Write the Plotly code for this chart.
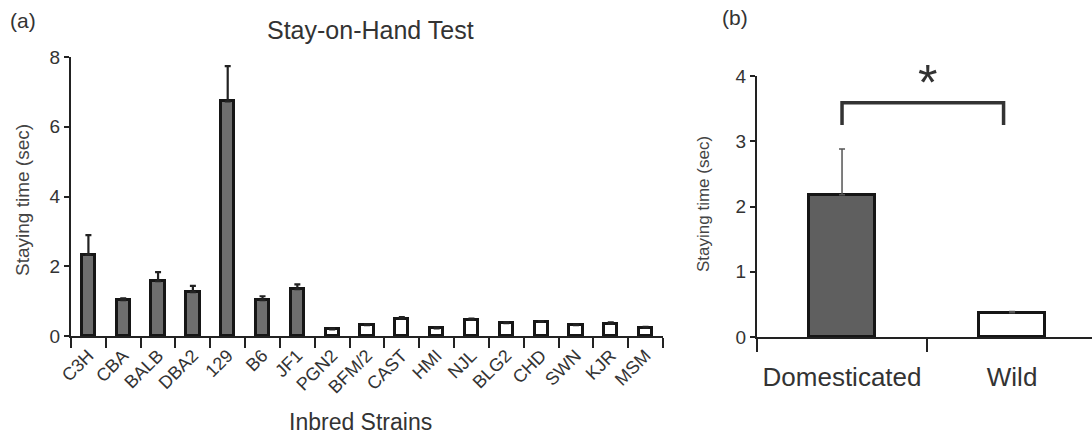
import plotly.graph_objects as go

# ---- data ----
strains = ["C3H", "CBA", "BALB", "DBA2", "129", "B6", "JF1", "PGN2", "BFM/2",
           "CAST", "HMI", "NJL", "BLG2", "CHD", "SWN", "KJR", "MSM"]
strain_means = [2.33, 1.03, 1.57, 1.26, 6.73, 1.03, 1.34, 0.19, 0.31,
                0.50, 0.22, 0.46, 0.37, 0.41, 0.31, 0.35, 0.24]
strain_err = [0.56, 0.05, 0.26, 0.18, 1.01, 0.11, 0.14, 0.02, 0.03,
              0.04, 0.02, 0.04, 0.03, 0.02, 0.02, 0.04, 0.02]
strain_group = ["dom"] * 7 + ["wild"] * 10

groups = ["Domesticated", "Wild"]
group_means = [2.18, 0.37]
group_err = [0.70, 0.02]

yticks_a = [0, 2, 4, 6, 8]
yticks_b = [0, 1, 2, 3, 4]

FONT = "Liberation Sans, Arial, Helvetica, sans-serif"
TXT = "#333333"
W, H = 1092, 435

def px_x(p):
    return p / W

def px_y(p):
    return (H - p) / H

fill_a = ["#6e6e6e" if g == "dom" else "#ffffff" for g in strain_group]
fill_b = ["#5f5f5f", "#ffffff"]

fig = go.Figure()

fig.add_trace(go.Bar(
    x=strains, y=strain_means, xaxis="x", yaxis="y",
    width=0.38,
    marker=dict(color=fill_a, line=dict(color="#161616", width=3)),
    error_y=dict(type="data", symmetric=False, array=strain_err,
                 arrayminus=[0] * len(strain_err),
                 color="#222222", thickness=2.2, width=3),
    showlegend=False,
))

fig.add_trace(go.Bar(
    x=groups, y=group_means, xaxis="x2", yaxis="y2",
    width=0.39,
    marker=dict(color=fill_b, line=dict(color="#161616", width=3)),
    error_y=dict(type="data", symmetric=False, array=group_err,
                 arrayminus=[0, 0],
                 color="#555555", thickness=1.5, width=3),
    showlegend=False,
))

axis_common = dict(showline=True, linecolor="#222222", linewidth=2,
                   showgrid=False, zeroline=False, ticks="outside",
                   tickcolor="#222222", tickwidth=2, automargin=False)

fig.update_layout(
    template="none",
    width=W, height=H,
    margin=dict(l=0, r=0, t=0, b=0, pad=0),
    paper_bgcolor="white", plot_bgcolor="white",
    font=dict(family=FONT, color=TXT),
    bargap=0,
    xaxis=dict(**axis_common, domain=[px_x(71), px_x(663)],
               anchor="y", type="category", range=[-0.5, 16.5],
               tickson="boundaries", ticklen=10, tickangle=-45,
               tickfont=dict(size=18, color=TXT)),
    yaxis=dict(**axis_common, domain=[px_y(336), px_y(57)],
               anchor="x", range=[0, 8], tickvals=yticks_a, ticklen=5,
               tickfont=dict(size=19, color=TXT)),
    xaxis2=dict(**axis_common, domain=[px_x(757), 1.0],
                anchor="y2", type="category", range=[-0.5, 1.47],
                tickson="boundaries", ticklen=13, ticklabelstandoff=16,
                tickfont=dict(size=26, color=TXT)),
    yaxis2=dict(**axis_common, domain=[px_y(337), px_y(76)],
                anchor="x2", range=[0, 4], tickvals=yticks_b, ticklen=5,
                tickfont=dict(size=19, color=TXT)),
)

# significance bracket in panel b (data coordinates)
fig.add_shape(type="path", xref="x2", yref="y2",
              path="M 0,3.25 L 0,3.59 L 0.95,3.59 L 0.95,3.25",
              line=dict(color="#333333", width=3.5))

ann = []
ann.append(dict(text="(a)", x=px_x(8), y=px_y(20), xref="paper", yref="paper",
                xanchor="left", yanchor="middle", showarrow=False,
                font=dict(size=21, color=TXT)))
ann.append(dict(text="(b)", x=px_x(720), y=px_y(17), xref="paper", yref="paper",
                xanchor="left", yanchor="middle", showarrow=False,
                font=dict(size=21, color=TXT)))
ann.append(dict(text="Stay-on-Hand Test", x=px_x(370), y=px_y(30), xref="paper",
                yref="paper", xanchor="center", yanchor="middle", showarrow=False,
                font=dict(size=25, color=TXT)))
ann.append(dict(text="Inbred Strains", x=px_x(360), y=px_y(422), xref="paper",
                yref="paper", xanchor="center", yanchor="middle", showarrow=False,
                font=dict(size=23, color=TXT)))
ann.append(dict(text="Staying time (sec)", x=px_x(22), y=px_y(200), xref="paper",
                yref="paper", xanchor="center", yanchor="middle", showarrow=False,
                textangle=-90, font=dict(size=19, color="#444444")))
ann.append(dict(text="Staying time (sec)", x=px_x(703), y=px_y(204), xref="paper",
                yref="paper", xanchor="center", yanchor="middle", showarrow=False,
                textangle=-90, font=dict(size=17, color="#444444")))
ann.append(dict(text="*", x=0.5, y=3.90, xref="x2", yref="y2",
                xanchor="center", yanchor="middle", showarrow=False,
                font=dict(size=50, color="#333333")))
fig.update_layout(annotations=ann)

fig.write_html("out.html",
               config={"displayModeBar": False},
               post_script="document.body.style.margin='0';"
                           "document.body.style.overflow='hidden';")
